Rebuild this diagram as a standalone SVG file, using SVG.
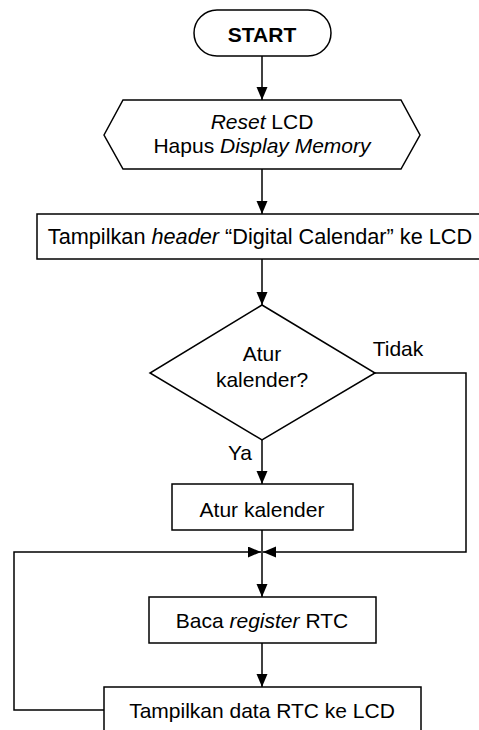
<svg xmlns="http://www.w3.org/2000/svg" width="479" height="730" viewBox="0 0 479 730">
<style>
.s{fill:#fff;stroke:#000;stroke-width:1.5}
.c{fill:none;stroke:#000;stroke-width:1.5}
text{font-family:"Liberation Sans",Arial,sans-serif;font-size:21px;fill:#000;text-anchor:middle}
.i{font-style:italic}
</style>
<defs>
<marker id="a" markerUnits="userSpaceOnUse" markerWidth="14" markerHeight="12" refX="13" refY="5.5" orient="auto">
<path d="M0,0 L13,5.5 L0,11 Z" fill="#000"/>
</marker>
</defs>
<rect width="479" height="730" fill="#fff"/>
<g id="connectors">
<line class="c" x1="262" y1="56" x2="262" y2="100" marker-end="url(#a)"/>
<line class="c" x1="262" y1="169" x2="262" y2="214" marker-end="url(#a)"/>
<line class="c" x1="262" y1="259" x2="262" y2="305" marker-end="url(#a)"/>
<line class="c" x1="262" y1="440" x2="262" y2="484" marker-end="url(#a)"/>
<polyline class="c" points="375,373 466,373 466,552 263,552" marker-end="url(#a)"/>
<polyline class="c" points="104,710 14,710 14,552 261,552" marker-end="url(#a)"/>
<line class="c" x1="262" y1="530" x2="262" y2="597" marker-end="url(#a)"/>
<line class="c" x1="262" y1="643" x2="262" y2="687" marker-end="url(#a)"/>
<text x="398" y="356">Tidak</text>
<text x="240" y="460">Ya</text>
</g>
<g id="start">
<rect class="s" x="194" y="10" width="137" height="46" rx="23"/>
<text x="262" y="42" font-weight="bold">START</text>
</g>
<g id="reset">
<polygon class="s" points="104,135 123,100 401,100 420,135 401,169 123,169"/>
<text x="262" y="129"><tspan class="i">Reset</tspan> LCD</text>
<text x="262" y="153">Hapus <tspan class="i">Display Memory</tspan></text>
</g>
<g id="header">
<rect class="s" x="37" y="214" width="450" height="45"/>
<text x="260" y="244" style="font-size:21.7px">Tampilkan <tspan class="i">header</tspan> “Digital Calendar” ke LCD</text>
</g>
<g id="decision">
<polygon class="s" points="262,305 375,373 262,440 150,373"/>
<text x="262" y="361">Atur</text>
<text x="262" y="387">kalender?</text>
</g>
<g id="atur">
<rect class="s" x="172" y="484" width="181" height="46"/>
<text x="262" y="517">Atur kalender</text>
</g>
<g id="baca">
<rect class="s" x="149" y="597" width="227" height="46"/>
<text x="262" y="628">Baca <tspan class="i">register</tspan> RTC</text>
</g>
<g id="tampil">
<rect class="s" x="104" y="687" width="317" height="48"/>
<text x="262" y="718">Tampilkan data RTC ke LCD</text>
</g>
</svg>
